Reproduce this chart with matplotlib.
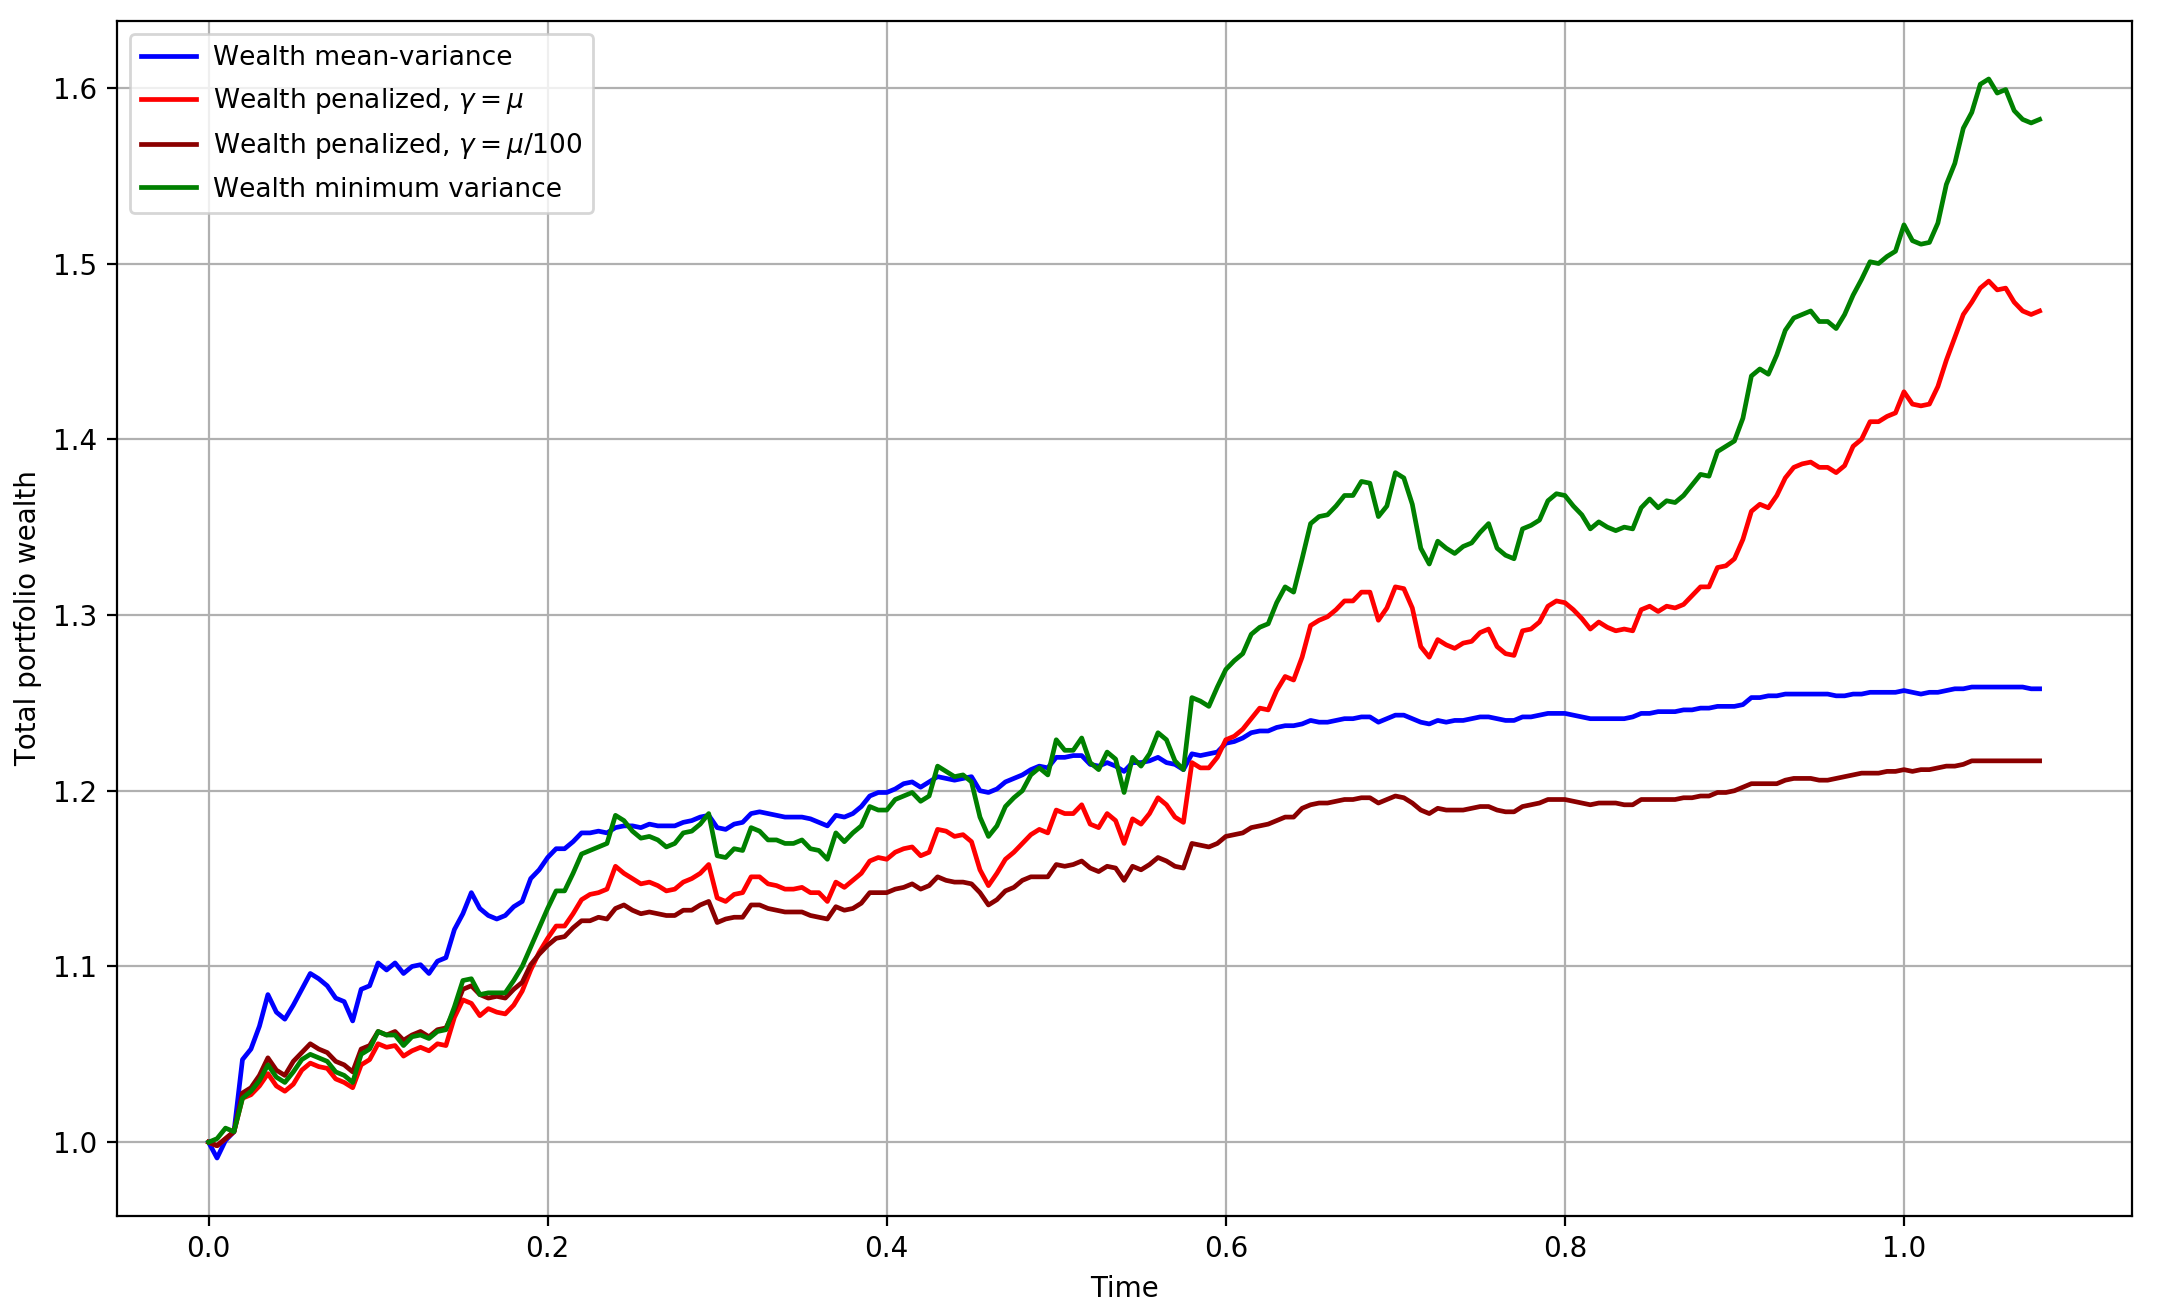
import numpy as np
import matplotlib
matplotlib.use("Agg")
import matplotlib.pyplot as plt

plt.rcParams["text.kerning_factor"] = 6

# time grid (years)
time = np.round(np.arange(0, 217) * 0.005, 4)

wealth_mean_variance = [
    1.000, 0.991, 1.001, 1.006, 1.047, 1.053, 1.066, 1.084, 1.074, 1.070,
    1.078, 1.087, 1.096, 1.093, 1.089, 1.082, 1.080, 1.069, 1.087, 1.089,
    1.102, 1.098, 1.102, 1.096, 1.100, 1.101, 1.096, 1.103, 1.105, 1.121,
    1.130, 1.142, 1.133, 1.129, 1.127, 1.129, 1.134, 1.137, 1.150, 1.155,
    1.162, 1.167,
    1.167, 1.171, 1.176, 1.176, 1.177, 1.176, 1.179, 1.180, 1.180, 1.179,
    1.181, 1.180, 1.180, 1.180, 1.182, 1.183, 1.185, 1.186, 1.179, 1.178,
    1.181, 1.182, 1.187, 1.188, 1.187, 1.186, 1.185, 1.185, 1.185, 1.184,
    1.182, 1.180, 1.186, 1.185, 1.187, 1.191, 1.197, 1.199,
    1.199, 1.201, 1.204, 1.205, 1.202, 1.205, 1.208, 1.207, 1.206, 1.207,
    1.208, 1.200, 1.199, 1.201, 1.205, 1.207, 1.209, 1.212, 1.214, 1.213,
    1.219, 1.219, 1.220, 1.220, 1.215, 1.214, 1.216, 1.214, 1.211, 1.216,
    1.216, 1.217, 1.219, 1.216, 1.215, 1.212, 1.221, 1.220, 1.221, 1.222,
    1.227, 1.228, 1.230, 1.233, 1.234, 1.234, 1.236, 1.237, 1.237, 1.238,
    1.240, 1.239, 1.239, 1.240, 1.241, 1.241, 1.242, 1.242, 1.239, 1.241,
    1.243, 1.243, 1.241, 1.239, 1.238, 1.240, 1.239, 1.240, 1.240, 1.241,
    1.242, 1.242, 1.241, 1.240, 1.240, 1.242, 1.242, 1.243, 1.244, 1.244,
    1.244, 1.243, 1.242, 1.241, 1.241, 1.241, 1.241, 1.241, 1.242, 1.244,
    1.244, 1.245, 1.245, 1.245, 1.246, 1.246, 1.247, 1.247, 1.248, 1.248,
    1.248, 1.249, 1.253, 1.253, 1.254, 1.254, 1.255, 1.255, 1.255, 1.255,
    1.255, 1.255, 1.254, 1.254, 1.255, 1.255, 1.256, 1.256, 1.256, 1.256,
    1.257, 1.256, 1.255, 1.256, 1.256, 1.257, 1.258, 1.258, 1.259, 1.259,
    1.259, 1.259, 1.259, 1.259, 1.259, 1.258, 1.258,
]

wealth_pen_mu = [
    1.000, 0.998, 1.002, 1.006, 1.025, 1.027, 1.032, 1.039, 1.032, 1.029,
    1.033, 1.041, 1.045, 1.043, 1.042, 1.036, 1.034, 1.031, 1.044, 1.047,
    1.056, 1.054, 1.055, 1.049, 1.052, 1.054, 1.052, 1.056, 1.055, 1.071,
    1.081, 1.079, 1.072, 1.076, 1.074, 1.073, 1.078, 1.086, 1.098, 1.108,
    1.116, 1.123,
    1.123, 1.130, 1.138, 1.141, 1.142, 1.144, 1.157, 1.153, 1.150, 1.147,
    1.148, 1.146, 1.143, 1.144, 1.148, 1.150, 1.153, 1.158, 1.139, 1.137,
    1.141, 1.142, 1.151, 1.151, 1.147, 1.146, 1.144, 1.144, 1.145, 1.142,
    1.142, 1.137, 1.148, 1.145, 1.149, 1.153, 1.160, 1.162,
    1.161, 1.165, 1.167, 1.168, 1.163, 1.165, 1.178, 1.177, 1.174, 1.175,
    1.171, 1.155, 1.146, 1.153, 1.161, 1.165, 1.170, 1.175, 1.178, 1.176,
    1.189, 1.187, 1.187, 1.192, 1.181, 1.179, 1.187, 1.183, 1.170, 1.184,
    1.181, 1.187, 1.196, 1.192, 1.185, 1.182, 1.216, 1.213, 1.213, 1.219,
    1.229, 1.231, 1.235, 1.241, 1.247, 1.246, 1.257, 1.265, 1.263, 1.276,
    1.294, 1.297, 1.299, 1.303, 1.308, 1.308, 1.313, 1.313, 1.297, 1.304,
    1.316, 1.315, 1.304, 1.282, 1.276, 1.286, 1.283, 1.281, 1.284, 1.285,
    1.290, 1.292, 1.282, 1.278, 1.277, 1.291, 1.292, 1.296, 1.305, 1.308,
    1.307, 1.303, 1.298, 1.292, 1.296, 1.293, 1.291, 1.292, 1.291, 1.303,
    1.305, 1.302, 1.305, 1.304, 1.306, 1.311, 1.316, 1.316, 1.327, 1.328,
    1.332, 1.343, 1.359, 1.363, 1.361, 1.368, 1.378, 1.384, 1.386, 1.387,
    1.384, 1.384, 1.381, 1.385, 1.396, 1.400, 1.410, 1.410, 1.413, 1.415,
    1.427, 1.420, 1.419, 1.420, 1.430, 1.445, 1.458, 1.471, 1.478, 1.486,
    1.490, 1.485, 1.486, 1.478, 1.473, 1.471, 1.473,
]

wealth_pen_mu100 = [
    1.000, 0.998, 1.002, 1.006, 1.028, 1.031, 1.038, 1.048, 1.041, 1.038,
    1.046, 1.051, 1.056, 1.053, 1.051, 1.046, 1.044, 1.040, 1.053, 1.055,
    1.063, 1.061, 1.063, 1.058, 1.061, 1.063, 1.060, 1.064, 1.065, 1.075,
    1.087, 1.089, 1.084, 1.082, 1.083, 1.082, 1.087, 1.091, 1.101, 1.107,
    1.112, 1.116,
    1.117, 1.122, 1.126, 1.126, 1.128, 1.127, 1.133, 1.135, 1.132, 1.130,
    1.131, 1.130, 1.129, 1.129, 1.132, 1.132, 1.135, 1.137, 1.125, 1.127,
    1.128, 1.128, 1.135, 1.135, 1.133, 1.132, 1.131, 1.131, 1.131, 1.129,
    1.128, 1.127, 1.134, 1.132, 1.133, 1.136, 1.142, 1.142,
    1.142, 1.144, 1.145, 1.147, 1.144, 1.146, 1.151, 1.149, 1.148, 1.148,
    1.147, 1.142, 1.135, 1.138, 1.143, 1.145, 1.149, 1.151, 1.151, 1.151,
    1.158, 1.157, 1.158, 1.160, 1.156, 1.154, 1.157, 1.156, 1.149, 1.157,
    1.155, 1.158, 1.162, 1.160, 1.157, 1.156, 1.170, 1.169, 1.168, 1.170,
    1.174, 1.175, 1.176, 1.179, 1.180, 1.181, 1.183, 1.185, 1.185, 1.190,
    1.192, 1.193, 1.193, 1.194, 1.195, 1.195, 1.196, 1.196, 1.193, 1.195,
    1.197, 1.196, 1.193, 1.189, 1.187, 1.190, 1.189, 1.189, 1.189, 1.190,
    1.191, 1.191, 1.189, 1.188, 1.188, 1.191, 1.192, 1.193, 1.195, 1.195,
    1.195, 1.194, 1.193, 1.192, 1.193, 1.193, 1.193, 1.192, 1.192, 1.195,
    1.195, 1.195, 1.195, 1.195, 1.196, 1.196, 1.197, 1.197, 1.199, 1.199,
    1.200, 1.202, 1.204, 1.204, 1.204, 1.204, 1.206, 1.207, 1.207, 1.207,
    1.206, 1.206, 1.207, 1.208, 1.209, 1.210, 1.210, 1.210, 1.211, 1.211,
    1.212, 1.211, 1.212, 1.212, 1.213, 1.214, 1.214, 1.215, 1.217, 1.217,
    1.217, 1.217, 1.217, 1.217, 1.217, 1.217, 1.217,
]

wealth_min_variance = [
    1.000, 1.002, 1.008, 1.006, 1.025, 1.029, 1.035, 1.044, 1.037, 1.034,
    1.040, 1.047, 1.050, 1.048, 1.046, 1.040, 1.038, 1.034, 1.050, 1.053,
    1.063, 1.061, 1.061, 1.055, 1.060, 1.061, 1.059, 1.063, 1.064, 1.077,
    1.092, 1.093, 1.084, 1.085, 1.085, 1.085, 1.092, 1.100, 1.111, 1.122,
    1.133, 1.143,
    1.143, 1.153, 1.164, 1.166, 1.168, 1.170, 1.186, 1.183, 1.177, 1.173,
    1.174, 1.172, 1.168, 1.170, 1.176, 1.177, 1.181, 1.187, 1.163, 1.162,
    1.167, 1.166, 1.179, 1.177, 1.172, 1.172, 1.170, 1.170, 1.172, 1.167,
    1.166, 1.161, 1.176, 1.171, 1.176, 1.180, 1.191, 1.189,
    1.189, 1.195, 1.197, 1.199, 1.194, 1.197, 1.214, 1.211, 1.208, 1.209,
    1.205, 1.185, 1.174, 1.180, 1.191, 1.196, 1.200, 1.209, 1.213, 1.209,
    1.229, 1.223, 1.223, 1.230, 1.216, 1.212, 1.222, 1.218, 1.199, 1.219,
    1.214, 1.221, 1.233, 1.229, 1.217, 1.212, 1.253, 1.251, 1.248, 1.259,
    1.269, 1.274, 1.278, 1.289, 1.293, 1.295, 1.307, 1.316, 1.313, 1.332,
    1.352, 1.356, 1.357, 1.362, 1.368, 1.368, 1.376, 1.375, 1.356, 1.362,
    1.381, 1.378, 1.363, 1.338, 1.329, 1.342, 1.338, 1.335, 1.339, 1.341,
    1.347, 1.352, 1.338, 1.334, 1.332, 1.349, 1.351, 1.354, 1.365, 1.369,
    1.368, 1.362, 1.357, 1.349, 1.353, 1.350, 1.348, 1.350, 1.349, 1.361,
    1.366, 1.361, 1.365, 1.364, 1.368, 1.374, 1.380, 1.379, 1.393, 1.396,
    1.399, 1.412, 1.436, 1.440, 1.437, 1.448, 1.462, 1.469, 1.471, 1.473,
    1.467, 1.467, 1.463, 1.471, 1.482, 1.491, 1.501, 1.500, 1.504, 1.507,
    1.522, 1.513, 1.511, 1.512, 1.523, 1.545, 1.557, 1.577, 1.586, 1.602,
    1.605, 1.597, 1.599, 1.587, 1.582, 1.580, 1.582,
]

labels = [
    "Wealth mean-variance",
    r"Wealth penalized, $\gamma = \mu$",
    r"Wealth penalized, $\gamma = \mu/100$",
    "Wealth minimum variance",
]
colors = ["blue", "red", "darkred", "green"]

fig = plt.figure(figsize=(10.8, 6.555), dpi=200)
ax = fig.add_axes([0.05417, 0.07246, 0.98704 - 0.05417, 0.98398 - 0.07246])

for series, lab, col in zip(
    [wealth_mean_variance, wealth_pen_mu, wealth_pen_mu100, wealth_min_variance],
    labels, colors):
    ax.plot(time, series, color=col, label=lab, linewidth=1.7)

ax.set_xlim(-0.054, 1.1345)
ax.set_ylim(0.958, 1.638)
ax.grid(True)
ax.set_xlabel("Time")
ax.set_ylabel("Total portfolio wealth")
ax.legend(loc="upper left", prop={"size": 9.5}, handlelength=2.1,
          handletextpad=0.65, labelspacing=0.58)

fig.savefig("out.png", dpi=200)
